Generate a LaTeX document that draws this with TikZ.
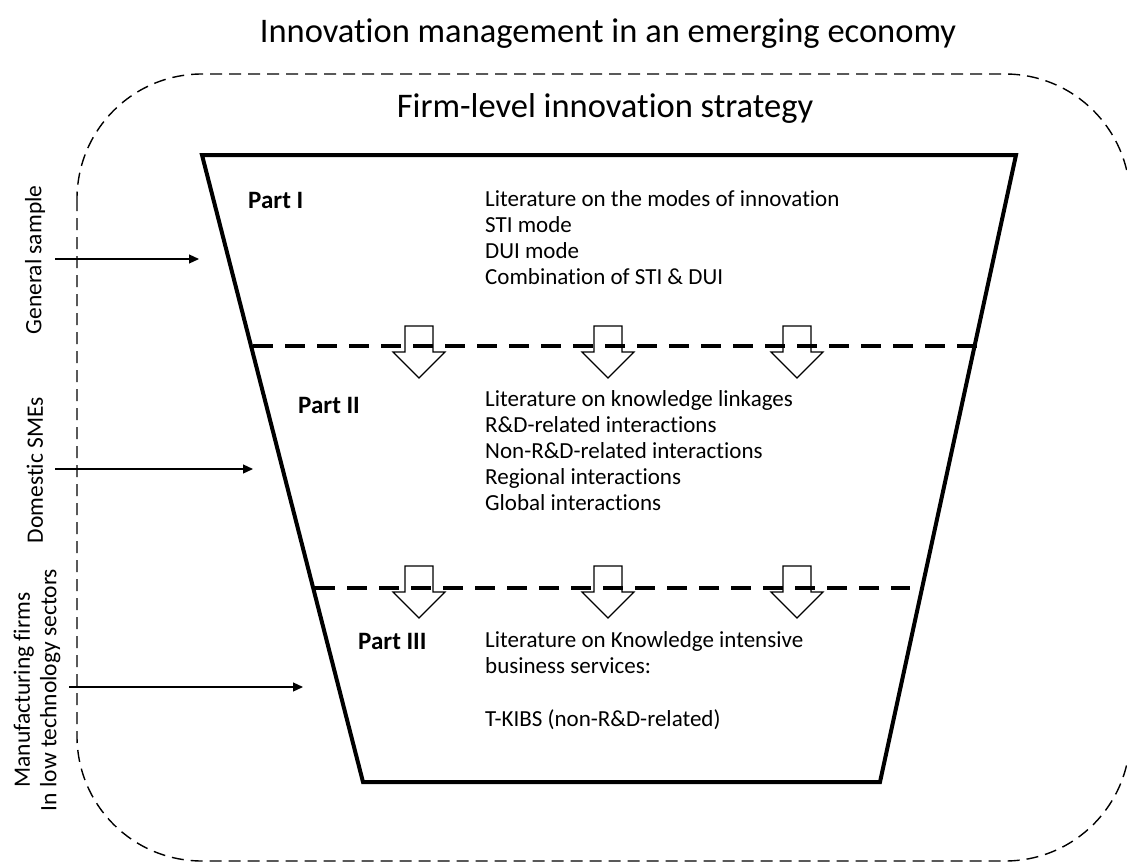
\documentclass[tikz,border=0pt]{standalone}
\usepackage{fontspec}
\setmainfont{Carlito}[Ligatures={NoCommon}]
\usetikzlibrary{arrows.meta}
\begin{document}
\begin{tikzpicture}[x=1pt,y=-1pt,
  frame/.style={dash pattern=on 12pt off 7pt, line width=1.4pt, rounded corners=125pt},
  funnel/.style={line width=4pt, line join=miter},
  divider/.style={line width=4pt, dash pattern=on 20pt off 12pt},
  feed/.style={line width=1.2pt, -{Triangle[length=10pt,width=9pt]}},
  body/.style={font=\fontsize{23}{26}\selectfont, align=left, inner sep=0pt, anchor=base west},
  part/.style={font=\fontsize{25}{26}\selectfont\bfseries, inner sep=0pt, anchor=base west},
  side/.style={font=\fontsize{23.5}{26.5}\selectfont, rotate=90, align=center, inner sep=0pt},
  heading/.style={font=\fontsize{34.5}{40}\selectfont, inner sep=0pt, anchor=base},
  blockarrow/.pic={\draw[line width=1.2pt, fill=white, line join=miter]
    (-14,0) -- (14,0) -- (14,26) -- (26,26) -- (0,52) -- (-26,26) -- (-14,26) -- cycle;}
]
\useasboundingbox (0,0) rectangle (1127,862);
\clip (0,0) rectangle (1127,862);

% headings
\node[heading] (title) at (608,42) {Innovation management in an emerging economy};
\node[heading] (firm) at (605,117) {Firm-level innovation strategy};

% dashed boundary of the firm level
\draw[frame] (77,74) rectangle (1130,861);

% the funnel
\draw[funnel] (202,155) -- (1016,155) -- (880,782) -- (363,782) -- cycle;

% block arrows between the parts
\foreach \cx in {419,608,797} {
  \pic at (\cx,326) {blockarrow};
  \pic at (\cx,566) {blockarrow};
}

% dividers between the parts
\draw[divider] (253,346) -- (980,346);
\draw[divider] (315,588) -- (910,588);

% part contents (multi-line nodes sit on the baseline of their last line)
\node[part] (p1) at (248,208) {Part I};
\node[body] (t1) at (485,284) {Literature on the modes of innovation\\STI mode\\DUI mode\\Combination of STI \& DUI};
\node[part] (p2) at (298,413) {Part II};
\node[body] (t2) at (485,510) {Literature on knowledge linkages\\R\&D-related interactions\\Non-R\&D-related interactions\\Regional interactions\\Global interactions};
\node[part] (p3) at (358,649) {Part III};
\node[body] (t3) at (485,726) {Literature on Knowledge intensive\\business services:\\[27pt]T-KIBS (non-R\&D-related)};

% samples feeding the funnel
\node[side] (gs) at (35,260) {General sample};
\node[side] (ds) at (35,470) {Domestic SMEs};
\node[side] (mf) at (37,690) {Manufacturing firms\\In low technology sectors};

\coordinate (gsA) at (55,259);  \coordinate (gsB) at (199,259);
\coordinate (dsA) at (55,469);  \coordinate (dsB) at (253,469);
\coordinate (mfA) at (69,687);  \coordinate (mfB) at (303,687);
\draw[feed] (gsA) -- (gsB);
\draw[feed] (dsA) -- (dsB);
\draw[feed] (mfA) -- (mfB);
\end{tikzpicture}
\end{document}
